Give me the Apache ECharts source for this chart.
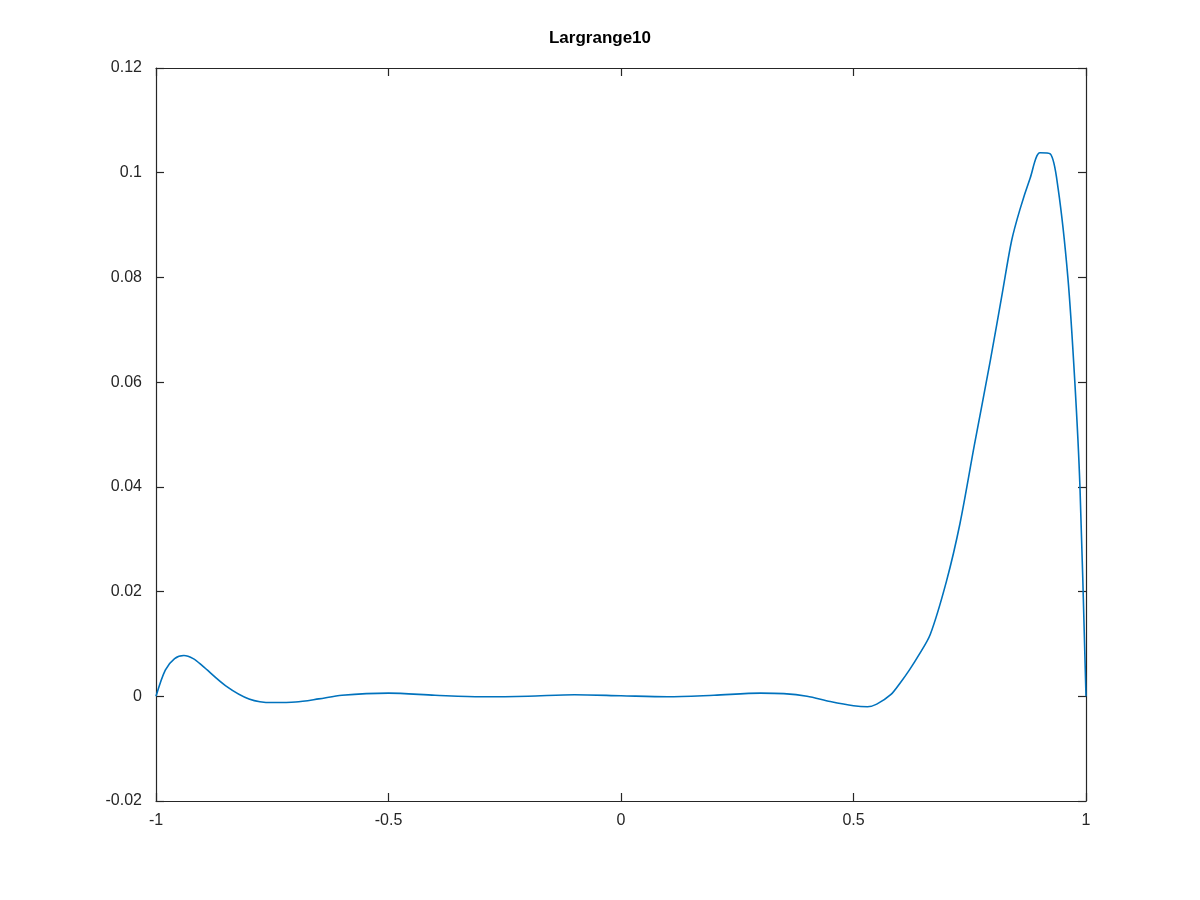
<!DOCTYPE html>
<html>
<head>
<meta charset="utf-8">
<script src="https://cdn.jsdelivr.net/npm/echarts@6/dist/echarts.min.js"></script>
<style>html,body{margin:0;background:#fff}#chart{width:1200px;height:900px}</style>
</head>
<body>
<div id="chart"></div>
<script>
const xs = [-1, -0.98, -0.96, -0.94, -0.92, -0.9, -0.85, -0.8, -0.75, -0.7, -0.65, -0.6, -0.5, -0.4, -0.3, -0.2, -0.1, 0, 0.1, 0.2, 0.3, 0.35, 0.4, 0.45, 0.5, 0.53, 0.55, 0.58, 0.6, 0.62, 0.64, 0.665, 0.7, 0.729, 0.76, 0.794, 0.82, 0.84, 0.858, 0.88, 0.901, 0.923, 0.94, 0.961, 0.976, 0.987, 1];
const ys = [0, 0.005, 0.0072, 0.0078, 0.0072, 0.0058, 0.002, -0.0005, -0.0012, -0.0011, -0.0005, 0.0002, 0.0006, 0.0002, -0.0001, 0, 0.0003, 0.0001, -0.0001, 0.0002, 0.0006, 0.0005, 0, -0.001, -0.0018, -0.002, -0.0015, 0.0003, 0.0025, 0.005, 0.0078, 0.0118, 0.022, 0.033, 0.048, 0.064, 0.077, 0.087, 0.093, 0.099, 0.1038, 0.1036, 0.097, 0.08, 0.06, 0.04, 0];

const chart = echarts.init(document.getElementById('chart'));
const lbl = { color: '#262626', fontSize: 16, fontFamily: 'Liberation Sans, Arial' };
const line = { lineStyle: { color: '#262626', width: 1.2 } };
const base = {
  axisLine: Object.assign({ onZero: false }, line),
  axisTick: Object.assign({ inside: true, length: 8 }, line),
  splitLine: { show: false }
};
chart.setOption({
  animation: false,
  title: { text: 'Largrange10', left: 'center', top: 25,
    textStyle: { fontSize: 17, fontWeight: 'bold', color: '#000', fontFamily: 'Liberation Sans, Arial' } },
  grid: { left: 156, right: 114, top: 68, bottom: 99 },
  xAxis: [
    Object.assign({ type: 'value', min: -1, max: 1, interval: 0.5, position: 'bottom',
      axisLabel: Object.assign({ margin: 12 }, lbl) }, base),
    Object.assign({ type: 'value', min: -1, max: 1, interval: 0.5, position: 'top',
      axisLabel: { show: false } }, base)
  ],
  yAxis: [
    Object.assign({ type: 'value', min: -0.02, max: 0.12, interval: 0.02, position: 'left',
      axisLabel: Object.assign({ margin: 14 }, lbl) }, base),
    Object.assign({ type: 'value', min: -0.02, max: 0.12, interval: 0.02, position: 'right',
      axisLabel: { show: false } }, base)
  ],
  series: [{
    type: 'line', showSymbol: false, smooth: 0.3,
    data: xs.map((x, i) => [x, ys[i]]),
    lineStyle: { color: '#0072bd', width: 1.6 }
  }]
});
</script>
</body>
</html>
